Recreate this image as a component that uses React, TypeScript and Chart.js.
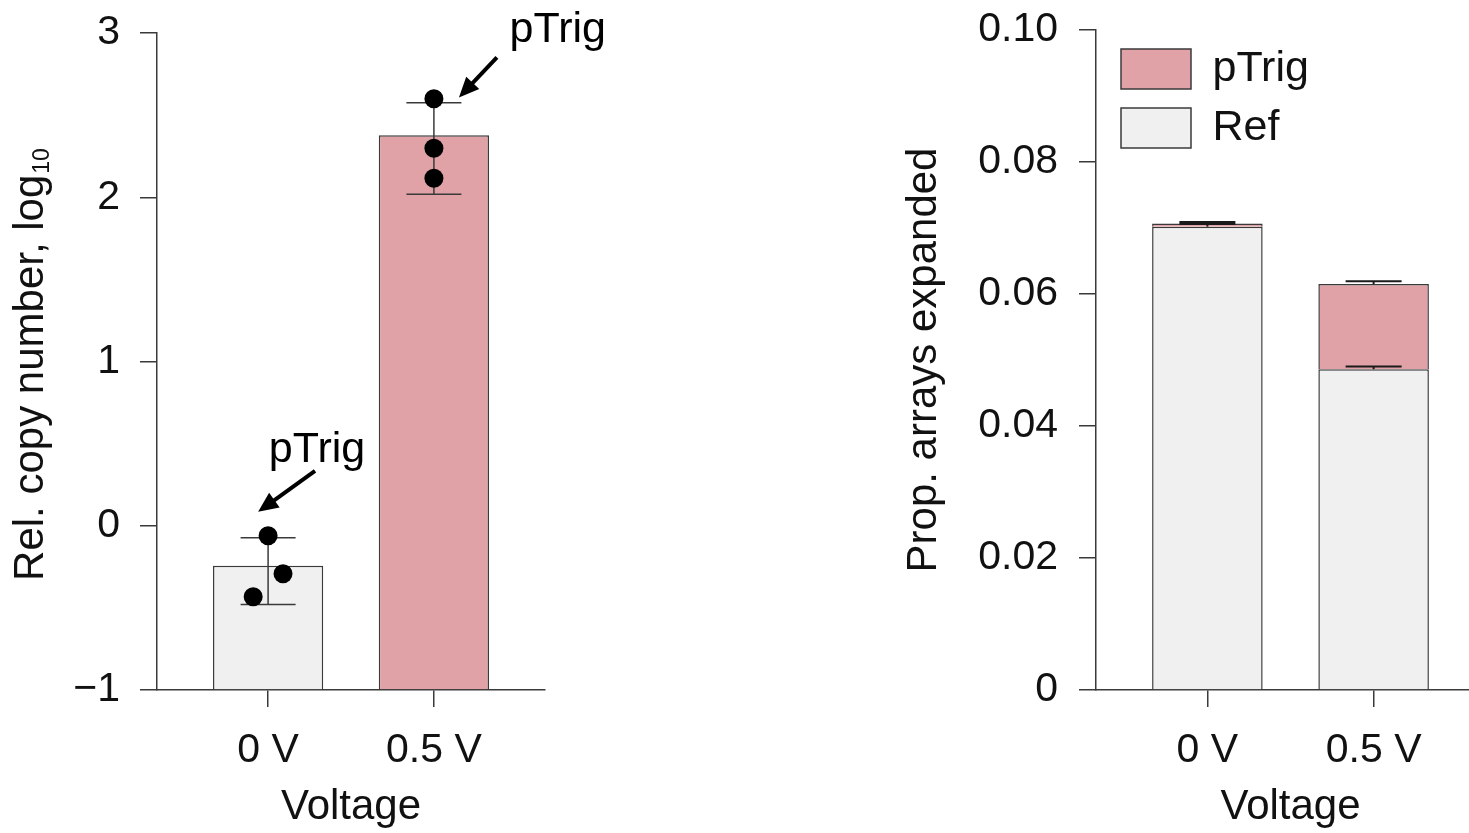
import React, { useEffect, useRef } from "react";
import { Chart, registerables } from "chart.js";

Chart.register(...registerables);

const FAMILY = "'Liberation Sans', Arial, Helvetica, sans-serif";
const TEXT = "#111111";
const AXIS = "#3a3a3a";
const PINK = "#e0a2a7";
const GREY = "#f0f0f0";

// ---------- shared ----------
const categories = ["0 V", "0.5 V"];
const xTitle = "Voltage";

// ---------- left panel: relative copy number ----------
const copyYTitle = "Rel. copy number, log";
const copyYTitleSub = "10";
const copyMeans = [-0.243, 2.377];
const copyLower = [-0.48, 2.018];
const copyUpper = [-0.073, 2.576];
const repCategory = [0, 0, 0, 1, 1, 1];
const repJitter = [0, 0.09, -0.09, 0, 0, 0];
const repValues = [-0.061, -0.292, -0.432, 2.6, 2.298, 2.116];
const copyTicks = [-1, 0, 1, 2, 3];
const copyTickLabels = ["\u22121", "0", "1", "2", "3"];
const annotationLabel = "pTrig";
// annotation anchors in data units: [text, arrow tail, arrow head]
const annTextX = [0.295, 1.747];
const annTextY = [0.389, 2.948];
const annTailX = [0.283, 1.38];
const annTailY = [0.334, 2.851];
const annHeadX = [-0.06, 1.151];
const annHeadY = [0.085, 2.608];

// ---------- right panel: proportion expanded ----------
const propYTitle = "Prop. arrays expanded";
const seriesNames = ["Ref", "pTrig"];
const refValues = [0.0702, 0.0486];
const pTrigValues = [0.0005, 0.0129];
const refErr = [0.0004, 0.0004];
const totalErr = [0.0002, 0.00045];
const propTicks = [0, 0.02, 0.04, 0.06, 0.08, 0.1];
const propTickLabels = ["0", "0.02", "0.04", "0.06", "0.08", "0.10"];

const font = (size: number) => ({ family: FAMILY, size, weight: "normal" as const });

function makeXAxis(stacked: boolean) {
  return {
    type: "linear" as const,
    stacked,
    min: -0.67,
    max: 1.67,
    bounds: "data" as const,
    offset: false,
    afterBuildTicks: (s: any) => {
      s.ticks = categories.map((_, i) => ({ value: i }));
    },
    afterFit: (s: any) => {
      s.height = 143;
      s.paddingLeft = 0;
      s.paddingRight = 0;
    },
    ticks: {
      callback: (v: any) => categories[Math.round(Number(v))] ?? "",
      autoSkip: false,
      maxRotation: 0,
      minRotation: 0,
      padding: 19,
      font: font(41),
      color: TEXT,
    },
    grid: {
      offset: false,
      drawOnChartArea: false,
      drawTicks: true,
      tickLength: 17,
      color: AXIS,
      lineWidth: 1.5,
    },
    border: { display: true, color: AXIS, width: 1.5 },
    title: { display: true, text: xTitle, font: font(42), color: TEXT, padding: { top: 0, bottom: 0 } },
  };
}

function drawErrorBar(ctx: CanvasRenderingContext2D, px: number, y1: number, y2: number, half: number) {
  ctx.beginPath();
  ctx.moveTo(px, y1);
  ctx.lineTo(px, y2);
  ctx.stroke();
  ctx.beginPath();
  ctx.moveTo(px - half, y2);
  ctx.lineTo(px + half, y2);
  ctx.stroke();
}

const copyErrorPlugin = {
  id: "copyError",
  afterDatasetDraw(chart: any, args: any) {
    if (args.index !== 0) return;
    const { ctx, scales } = chart;
    const { x, y } = scales;
    ctx.save();
    ctx.strokeStyle = AXIS;
    ctx.lineWidth = 1.5;
    copyMeans.forEach((_, i) => {
      const px = x.getPixelForValue(i);
      const lo = y.getPixelForValue(copyLower[i]);
      const hi = y.getPixelForValue(copyUpper[i]);
      ctx.beginPath();
      ctx.moveTo(px, lo);
      ctx.lineTo(px, hi);
      ctx.stroke();
      [lo, hi].forEach((py) => {
        ctx.beginPath();
        ctx.moveTo(px - 27.5, py);
        ctx.lineTo(px + 27.5, py);
        ctx.stroke();
      });
    });
    ctx.restore();
  },
};

const copyDecorPlugin = {
  id: "copyDecor",
  afterDraw(chart: any) {
    const { ctx, chartArea, scales } = chart;
    const { x, y } = scales;
    ctx.save();
    // y-axis title with subscript
    ctx.fillStyle = TEXT;
    ctx.textBaseline = "alphabetic";
    ctx.textAlign = "left";
    ctx.font = `42px ${FAMILY}`;
    const w1 = ctx.measureText(copyYTitle).width;
    ctx.font = `23px ${FAMILY}`;
    const w2 = ctx.measureText(copyYTitleSub).width;
    const total = w1 + 1 + w2;
    const cy = (chartArea.top + chartArea.bottom) / 2 + 3;
    ctx.save();
    ctx.translate(43, cy);
    ctx.rotate(-Math.PI / 2);
    ctx.font = `42px ${FAMILY}`;
    ctx.fillText(copyYTitle, -total / 2, 0);
    ctx.font = `23px ${FAMILY}`;
    ctx.fillText(copyYTitleSub, -total / 2 + w1 + 1, 6);
    ctx.restore();

    // annotations
    ctx.fillStyle = "#000";
    ctx.strokeStyle = "#000";
    ctx.font = `43px ${FAMILY}`;
    ctx.textAlign = "center";
    annTextX.forEach((_, i) => {
      ctx.fillText(annotationLabel, x.getPixelForValue(annTextX[i]), y.getPixelForValue(annTextY[i]));
      const x1 = x.getPixelForValue(annTailX[i]);
      const y1 = y.getPixelForValue(annTailY[i]);
      const x2 = x.getPixelForValue(annHeadX[i]);
      const y2 = y.getPixelForValue(annHeadY[i]);
      const ang = Math.atan2(y2 - y1, x2 - x1);
      const c = Math.cos(ang);
      const s = Math.sin(ang);
      const headLen = 20;
      const headHalf = 9;
      const bx = x2 - headLen * c;
      const by = y2 - headLen * s;
      ctx.lineWidth = 4;
      ctx.lineCap = "butt";
      ctx.beginPath();
      ctx.moveTo(x1, y1);
      ctx.lineTo(bx + 2 * c, by + 2 * s);
      ctx.stroke();
      ctx.beginPath();
      ctx.moveTo(x2, y2);
      ctx.lineTo(bx - headHalf * s, by + headHalf * c);
      ctx.lineTo(bx + headHalf * s, by - headHalf * c);
      ctx.closePath();
      ctx.fill();
    });
    ctx.restore();
  },
};

const propErrorPlugin = {
  id: "propError",
  afterDatasetsDraw(chart: any) {
    const { ctx, scales } = chart;
    const { x, y } = scales;
    ctx.save();
    ctx.strokeStyle = "#1a1a1a";
    ctx.lineWidth = 2;
    refValues.forEach((r, i) => {
      const px = x.getPixelForValue(i);
      const tot = r + pTrigValues[i];
      drawErrorBar(ctx, px, y.getPixelForValue(r), y.getPixelForValue(r + refErr[i]), 28);
      drawErrorBar(ctx, px, y.getPixelForValue(tot), y.getPixelForValue(tot + totalErr[i]), 28);
    });
    ctx.restore();
  },
};

// place the legend inside the plot area, at its top-left corner
const legendPlacePlugin = {
  id: "legendPlace",
  afterLayout(chart: any) {
    const l = chart.legend;
    if (!l) return;
    const h = l.height;
    const w = l.width;
    l.left = chart.chartArea.left + 9;
    l.top = chart.chartArea.top + 1.5;
    l.right = l.left + w;
    l.bottom = l.top + h;
  },
};

function copyConfig(): any {
  return {
    type: "bar",
    data: {
      datasets: [
        {
          type: "bar",
          label: "Rel. copy number",
          data: copyMeans.map((v, i) => ({ x: i, y: v })),
          base: -1,
          backgroundColor: [GREY, PINK],
          borderColor: AXIS,
          borderWidth: 1.5,
          categoryPercentage: 1,
          barPercentage: 0.665,
          order: 1,
        },
        {
          type: "scatter",
          label: "Replicates",
          data: repValues.map((v, i) => ({ x: repCategory[i] + repJitter[i], y: v })),
          pointRadius: 9.5,
          pointBackgroundColor: "#000",
          pointBorderWidth: 0,
          showLine: false,
          order: 0,
        },
      ],
    },
    options: {
      responsive: true,
      maintainAspectRatio: false,
      animation: false,
      events: [],
      layout: { padding: { left: 0, top: 33, right: 95, bottom: 0 } },
      plugins: { legend: { display: false }, tooltip: { enabled: false } },
      scales: {
        x: makeXAxis(false),
        y: {
          type: "linear",
          min: -1,
          max: 3,
          afterBuildTicks: (s: any) => {
            s.ticks = copyTicks.map((v) => ({ value: v }));
          },
          afterFit: (s: any) => {
            s.width = 157;
            s.paddingTop = 0;
            s.paddingBottom = 0;
          },
          ticks: {
            callback: (_v: any, i: number) => copyTickLabels[i],
            padding: 20,
            font: font(41),
            color: TEXT,
          },
          grid: { drawOnChartArea: false, drawTicks: true, tickLength: 17, color: AXIS, lineWidth: 1.5 },
          border: { display: true, color: AXIS, width: 1.5 },
        },
      },
    },
    plugins: [copyErrorPlugin, copyDecorPlugin],
  };
}

function propConfig(): any {
  return {
    type: "bar",
    data: {
      datasets: [
        {
          label: seriesNames[0],
          data: refValues.map((v, i) => ({ x: i, y: v })),
          backgroundColor: GREY,
          borderColor: AXIS,
          borderWidth: 1.5,
          categoryPercentage: 1,
          barPercentage: 0.665,
          stack: "s",
        },
        {
          label: seriesNames[1],
          data: pTrigValues.map((v, i) => ({ x: i, y: v })),
          backgroundColor: PINK,
          borderColor: AXIS,
          borderWidth: 1.5,
          categoryPercentage: 1,
          barPercentage: 0.665,
          stack: "s",
        },
      ],
    },
    options: {
      responsive: true,
      maintainAspectRatio: false,
      animation: false,
      events: [],
      layout: { padding: { left: 0, top: 30, right: 0, bottom: 0 } },
      plugins: {
        tooltip: { enabled: false },
        legend: {
          display: true,
          position: "chartArea",
          align: "start",
          reverse: true,
          labels: {
            boxWidth: 70,
            boxHeight: 40,
            padding: 16,
            font: font(43),
            color: TEXT,
          },
        },
      },
      scales: {
        x: makeXAxis(true),
        y: {
          type: "linear",
          stacked: true,
          min: 0,
          max: 0.1,
          afterBuildTicks: (s: any) => {
            s.ticks = propTicks.map((v) => ({ value: v }));
          },
          afterFit: (s: any) => {
            s.width = 216;
            s.paddingTop = 0;
            s.paddingBottom = 0;
          },
          ticks: {
            callback: (_v: any, i: number) => propTickLabels[i],
            padding: 21,
            font: font(41),
            color: TEXT,
          },
          grid: { drawOnChartArea: false, drawTicks: true, tickLength: 17, color: AXIS, lineWidth: 1.5 },
          border: { display: true, color: AXIS, width: 1.5 },
          title: { display: true, text: propYTitle, font: font(42), color: TEXT, padding: { top: 19, bottom: 0 } },
        },
      },
    },
    plugins: [propErrorPlugin, legendPlacePlugin],
  };
}

function ChartBox({ make, style }: { make: () => any; style: React.CSSProperties }) {
  const ref = useRef<HTMLCanvasElement>(null);
  useEffect(() => {
    const chart = new Chart(ref.current as HTMLCanvasElement, make());
    return () => chart.destroy();
  }, [make]);
  return (
    <div style={{ position: "absolute", ...style }}>
      <canvas ref={ref} />
    </div>
  );
}

export default function App() {
  return (
    <div
      style={{
        position: "absolute",
        left: 0,
        top: 0,
        width: 1469,
        height: 833,
        overflow: "hidden",
        background: "#ffffff",
      }}
    >
      <ChartBox make={copyConfig} style={{ left: 0, top: 0, width: 640, height: 833 }} />
      <ChartBox make={propConfig} style={{ left: 880, top: 0, width: 605, height: 833 }} />
    </div>
  );
}
